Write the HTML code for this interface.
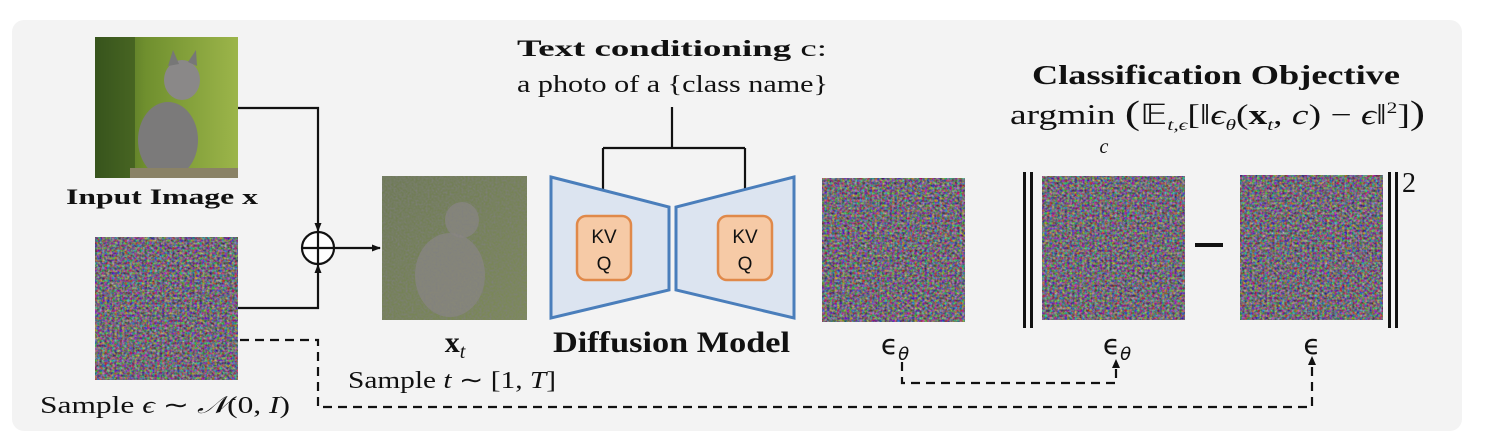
<!DOCTYPE html>
<html><head><meta charset="utf-8"><style>
html,body{margin:0;padding:0;background:#fff;width:1487px;height:445px;overflow:hidden}
svg text{font-family:"Liberation Serif",serif;fill:#111}
</style></head><body>
<svg width="1487" height="445" viewBox="0 0 1487 445" xmlns="http://www.w3.org/2000/svg">
<defs>
<filter id="nz" x="0" y="0" width="100%" height="100%" color-interpolation-filters="sRGB">
<feTurbulence type="fractalNoise" baseFrequency="0.4" numOctaves="2" seed="3"/>
<feColorMatrix type="matrix" values="1.1 -0.1 -0.1 0 0.0  -0.1 1.1 -0.1 0 -0.03  -0.1 -0.1 1.1 0 0.02  0 0 0 0 1"/>
</filter>
<filter id="nz2" x="0" y="0" width="100%" height="100%" color-interpolation-filters="sRGB">
<feTurbulence type="fractalNoise" baseFrequency="0.5" numOctaves="2" seed="7"/>
<feColorMatrix type="matrix" values="0 0 0 0 0.5  0 0 0 0 0.5  0 0 0 0 0.5  1 1 0 0 -0.75"/>
</filter>
<linearGradient id="grn" x1="0" y1="0" x2="1" y2="0">
<stop offset="0" stop-color="#3d5a1e"/><stop offset="0.35" stop-color="#6f8f2e"/><stop offset="1" stop-color="#9cb54a"/>
</linearGradient>
<linearGradient id="grn2" x1="0" y1="0" x2="1" y2="1">
<stop offset="0" stop-color="#6e7a55"/><stop offset="1" stop-color="#7d8a58"/>
</linearGradient>
<marker id="ar" markerWidth="10" markerHeight="10" refX="8" refY="5" orient="auto" markerUnits="userSpaceOnUse">
<path d="M0,1.5 L9,5 L0,8.5 Z" fill="#111"/></marker>
</defs>
<rect x="12" y="20" width="1450" height="411" rx="12" fill="#f3f3f3"/>

<!-- cat image -->
<rect x="95" y="37" width="143" height="141" fill="url(#grn)"/>
<rect x="95" y="37" width="40" height="141" fill="#33501c" opacity="0.6"/>
<ellipse cx="168" cy="140" rx="30" ry="38" fill="#7b7a7a"/>
<ellipse cx="182" cy="80" rx="18" ry="20" fill="#8a8888"/>
<path d="M168,66 l5,-16 l6,14 Z M188,62 l8,-12 l1,16 Z" fill="#777"/>
<rect x="130" y="168" width="108" height="10" fill="#8a8266"/>
<text x="66" y="204" font-size="22" font-weight="bold" textLength="192" lengthAdjust="spacingAndGlyphs">Input Image x</text>

<!-- noise 1 -->
<rect x="95" y="237" width="143" height="143" fill="#888" filter="url(#nz)"/>
<text x="40" y="413" font-size="24" textLength="250" lengthAdjust="spacingAndGlyphs">Sample <tspan font-style="italic">ϵ</tspan> ∼ <tspan font-style="italic">𝒩</tspan>(0, <tspan font-style="italic">I</tspan>)</text>

<!-- connectors -->
<g stroke="#111" stroke-width="2.2" fill="none">
<path d="M238,108 H318 V231" marker-end="url(#ar)"/>
<path d="M238,308 H318 V265" marker-end="url(#ar)"/>
<path d="M333,248 H380" marker-end="url(#ar)"/>
<circle cx="318" cy="248" r="16" fill="#fff"/>
<path d="M302,248 H334 M318,232 V264"/>
<path d="M672,107 V148 M603,148 H745"/>
<path d="M603,148 V213" marker-end="url(#ar)"/>
<path d="M745,148 V213" marker-end="url(#ar)"/>
</g>
<g stroke="#111" stroke-width="2.2" fill="none" stroke-dasharray="9,6">
<path d="M240,340 H318 V407 H1312 V362"/>
<path d="M902,362 V383 H1116 V366"/>
</g>
<path d="M1312,356 l-4,9 h8 Z M1116,359 l-4,9 h8 Z" fill="#111"/>

<!-- xt image -->
<rect x="382" y="176" width="145" height="144" fill="url(#grn2)"/>
<ellipse cx="450" cy="275" rx="35" ry="42" fill="#8a8682" opacity="0.8"/>
<ellipse cx="462" cy="220" rx="17" ry="18" fill="#8a8682" opacity="0.8"/>
<rect x="382" y="176" width="145" height="144" fill="#888" filter="url(#nz2)"/>
<text x="455" y="352" font-size="30" font-weight="bold" text-anchor="middle">x<tspan font-size="20" font-weight="normal" font-style="italic" dy="6">t</tspan></text>
<text x="348" y="388" font-size="24" textLength="208" lengthAdjust="spacingAndGlyphs">Sample <tspan font-style="italic">t</tspan> ∼ [1, <tspan font-style="italic">T</tspan>]</text>

<!-- diffusion model -->
<polygon points="551,177 669,207 669,290 551,318" fill="#dce4f0" stroke="#4a7ebb" stroke-width="3"/>
<polygon points="794,177 676,207 676,290 794,318" fill="#dce4f0" stroke="#4a7ebb" stroke-width="3"/>
<rect x="577" y="216" width="54" height="64" rx="9" fill="#f6caa6" stroke="#e0894a" stroke-width="2.5"/>
<rect x="718" y="216" width="54" height="64" rx="9" fill="#f6caa6" stroke="#e0894a" stroke-width="2.5"/>
<g font-size="19" text-anchor="middle">
<text x="604" y="243" style="font-family:'Liberation Sans',sans-serif">KV</text><text x="604" y="270" style="font-family:'Liberation Sans',sans-serif">Q</text>
<text x="745" y="243" style="font-family:'Liberation Sans',sans-serif">KV</text><text x="745" y="270" style="font-family:'Liberation Sans',sans-serif">Q</text>
</g>
<text x="553" y="352" font-size="30" font-weight="bold" textLength="237" lengthAdjust="spacingAndGlyphs">Diffusion Model</text>
<text x="517" y="56" font-size="23" textLength="310" lengthAdjust="spacingAndGlyphs"><tspan font-weight="bold">Text conditioning</tspan> c:</text>
<text x="517" y="92" font-size="24" textLength="311" lengthAdjust="spacingAndGlyphs">a photo of a {class name}</text>

<!-- eps theta -->
<rect x="822" y="178" width="143" height="144" fill="#888" filter="url(#nz)" stroke="#333" stroke-width="1"/>
<text x="895" y="354" font-size="28" text-anchor="middle" style="font-family:'DejaVu Sans',sans-serif">ϵ<tspan font-size="18" dy="6" font-style="italic">θ</tspan></text>

<!-- classification -->
<text x="1032" y="84" font-size="27" font-weight="bold" textLength="368" lengthAdjust="spacingAndGlyphs">Classification Objective</text>
<text x="1010" y="124" font-size="28" textLength="415" lengthAdjust="spacingAndGlyphs">argmin <tspan font-size="34">(</tspan>𝔼<tspan font-size="16" font-style="italic" dy="6">t,ϵ</tspan><tspan dy="-6">[‖</tspan><tspan font-style="italic">ϵ</tspan><tspan font-size="16" font-style="italic" dy="6">θ</tspan><tspan dy="-6">(</tspan><tspan font-weight="bold">x</tspan><tspan font-size="16" font-style="italic" dy="6">t</tspan><tspan dy="-6">, </tspan><tspan font-style="italic">c</tspan>) − <tspan font-style="italic">ϵ</tspan>‖<tspan font-size="16" dy="-11">2</tspan><tspan dy="11">]</tspan><tspan font-size="34">)</tspan></text>
<text x="1104" y="153" font-size="20" font-style="italic" text-anchor="middle">c</text>

<rect x="1023" y="172" width="3" height="156" fill="#111"/>
<rect x="1030" y="172" width="3" height="156" fill="#111"/>
<rect x="1042" y="176" width="143" height="144" fill="#888" filter="url(#nz)" stroke="#333" stroke-width="1"/>
<rect x="1195" y="243" width="28" height="4" fill="#111"/>
<rect x="1240" y="175" width="143" height="145" fill="#888" filter="url(#nz)" stroke="#333" stroke-width="1"/>
<rect x="1388" y="172" width="3" height="156" fill="#111"/>
<rect x="1395" y="172" width="3" height="156" fill="#111"/>
<text x="1402" y="192" font-size="28">2</text>
<text x="1117" y="354" font-size="28" text-anchor="middle" style="font-family:'DejaVu Sans',sans-serif">ϵ<tspan font-size="18" dy="6" font-style="italic">θ</tspan></text>
<text x="1312" y="354" font-size="28" text-anchor="middle" style="font-family:'DejaVu Sans',sans-serif">ϵ</text>
</svg>
</body></html>
